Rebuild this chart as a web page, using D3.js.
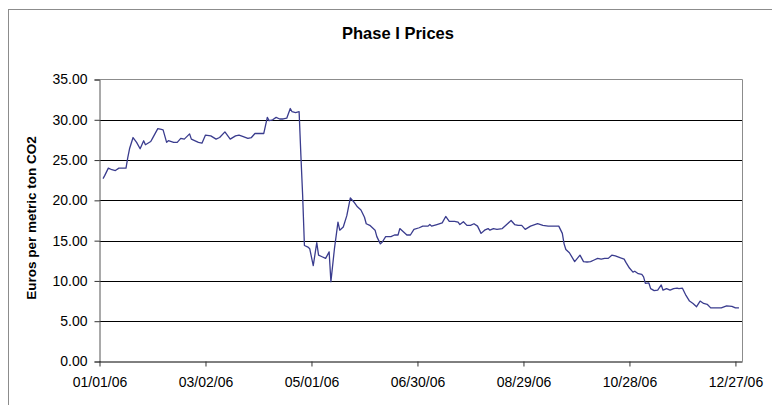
<!DOCTYPE html>
<html><head><meta charset="utf-8">
<script src="https://cdn.jsdelivr.net/npm/d3@7"></script>
<style>
body{margin:0;background:#fff}
svg{display:block}
text{font-family:"Liberation Sans",Arial,sans-serif;fill:#000}
</style>
</head><body>
<svg id="c" width="772" height="405"></svg>
<script>
const title = "Phase I Prices";
const yTitle = "Euros per metric ton CO2";
const yTicks = [0, 5, 10, 15, 20, 25, 30, 35];
const xTickDates = ["2006-01-01","2006-03-02","2006-05-01","2006-06-30","2006-08-29","2006-10-28","2006-12-27"];
const dates = [
"2006-01-03","2006-01-04","2006-01-06","2006-01-08","2006-01-10","2006-01-12","2006-01-13","2006-01-16","2006-01-17","2006-01-18",
"2006-01-20","2006-01-22","2006-01-24","2006-01-26","2006-01-27","2006-01-30","2006-01-31","2006-02-03","2006-02-05","2006-02-06",
"2006-02-08","2006-02-09","2006-02-12","2006-02-14","2006-02-16","2006-02-18","2006-02-21","2006-02-22","2006-02-26","2006-02-28",
"2006-03-02","2006-03-05","2006-03-08","2006-03-10","2006-03-13","2006-03-16","2006-03-19","2006-03-21","2006-03-23","2006-03-26",
"2006-03-28","2006-03-30","2006-04-03","2006-04-04","2006-04-06","2006-04-07","2006-04-09","2006-04-11","2006-04-13","2006-04-15",
"2006-04-17","2006-04-19","2006-04-20","2006-04-22","2006-04-24","2006-04-25","2006-04-26","2006-04-27","2006-04-29","2006-04-30",
"2006-05-02","2006-05-04","2006-05-05","2006-05-07","2006-05-09","2006-05-11","2006-05-12","2006-05-14","2006-05-16","2006-05-17",
"2006-05-19","2006-05-21","2006-05-23","2006-05-25","2006-05-27","2006-05-29","2006-05-31","2006-06-01","2006-06-03","2006-06-06",
"2006-06-07","2006-06-09","2006-06-10","2006-06-12","2006-06-15","2006-06-17","2006-06-19","2006-06-20","2006-06-22","2006-06-24",
"2006-06-26","2006-06-28","2006-07-01","2006-07-03","2006-07-06","2006-07-07","2006-07-08","2006-07-11","2006-07-14","2006-07-16",
"2006-07-18","2006-07-21","2006-07-23","2006-07-24","2006-07-26","2006-07-28","2006-07-30","2006-08-01","2006-08-03","2006-08-05",
"2006-08-07","2006-08-09","2006-08-10","2006-08-12","2006-08-14","2006-08-17","2006-08-20","2006-08-22","2006-08-24","2006-08-26",
"2006-08-28","2006-08-30","2006-09-02","2006-09-06","2006-09-09","2006-09-12","2006-09-15","2006-09-18","2006-09-20","2006-09-21",
"2006-09-22","2006-09-24","2006-09-27","2006-09-30","2006-10-02","2006-10-04","2006-10-06","2006-10-08","2006-10-10","2006-10-12",
"2006-10-14","2006-10-16","2006-10-18","2006-10-20","2006-10-23","2006-10-25","2006-10-26","2006-10-28","2006-10-30","2006-10-31",
"2006-11-02","2006-11-04","2006-11-05","2006-11-06","2006-11-08","2006-11-09","2006-11-11","2006-11-13","2006-11-15","2006-11-16",
"2006-11-18","2006-11-20","2006-11-22","2006-11-24","2006-11-25","2006-11-27","2006-11-29","2006-12-01","2006-12-03","2006-12-05",
"2006-12-07","2006-12-09","2006-12-11","2006-12-13","2006-12-16","2006-12-19","2006-12-22","2006-12-25","2006-12-27","2006-12-29"
];
const prices = [
22.7,23.1,24.0,23.8,23.7,24.0,24.0,24.0,25.3,26.4,
27.8,27.2,26.4,27.4,26.9,27.3,27.7,28.9,28.8,28.75,
27.2,27.4,27.2,27.2,27.7,27.6,28.25,27.6,27.2,27.1,
28.1,28.0,27.6,27.8,28.5,27.6,28.0,28.1,27.95,27.7,
27.8,28.3,28.3,28.3,30.3,29.9,30.0,30.3,30.1,30.1,
30.2,31.4,31.0,30.9,31.0,25.6,20.6,14.4,14.2,14.0,
11.9,14.75,13.2,13.0,12.8,13.6,9.9,14.0,17.3,16.3,
16.7,18.1,20.3,19.8,19.2,18.8,17.9,17.1,16.9,16.3,
15.5,14.6,14.8,15.5,15.5,15.7,15.7,16.5,16.1,15.7,
15.7,16.4,16.6,16.8,16.8,17.0,16.8,17.0,17.2,18.0,
17.4,17.4,17.3,17.0,17.35,16.9,16.9,17.1,16.8,15.9,
16.3,16.5,16.3,16.5,16.4,16.5,17.1,17.5,17.0,16.9,
16.9,16.4,16.8,17.1,16.9,16.8,16.8,16.8,15.9,14.6,
13.9,13.5,12.4,13.2,12.4,12.35,12.4,12.6,12.8,12.7,
12.8,12.8,13.2,13.1,12.85,12.7,12.3,11.6,11.1,11.2,
10.9,10.8,10.5,9.7,9.75,9.05,8.8,8.85,9.5,8.85,
9.05,8.85,9.05,9.1,9.05,9.1,8.2,7.5,7.2,6.8,
7.5,7.2,7.1,6.65,6.65,6.65,6.9,6.85,6.65,6.65
];

const parse = d3.utcParse("%Y-%m-%d");
const fmt = d3.utcFormat("%m/%d/%y");
const svg = d3.select("#c");
const L = 99.5, R = 742.5, T = 79.5, B = 361.5;

const x = d3.scaleUtc().domain([parse("2006-01-01"), parse("2006-12-31")]).range([L, R]);
const y = d3.scaleLinear().domain([0, 35]).range([B, T]);

// outer chart border
svg.append("rect").attr("x", 8.5).attr("y", 9.5).attr("width", 800).attr("height", 500)
  .attr("fill", "none").attr("stroke", "#8c8c8c").attr("stroke-width", 1);

// title
svg.append("text").attr("x", 398).attr("y", 39).attr("text-anchor", "middle")
  .attr("font-size", 16.5).attr("font-weight", "bold").text(title);

// gridlines
svg.append("g").selectAll("line").data(yTicks.filter(v => v > 0 && v < 35)).join("line")
  .attr("x1", L).attr("x2", R).attr("y1", d => Math.round(y(d)) + 0.5).attr("y2", d => Math.round(y(d)) + 0.5)
  .attr("stroke", "#000").attr("stroke-width", 1);

// plot frame top & right
svg.append("line").attr("x1", L).attr("x2", R).attr("y1", T).attr("y2", T).attr("stroke", "#8c8c8c");
svg.append("line").attr("x1", R).attr("x2", R).attr("y1", T).attr("y2", B).attr("stroke", "#8c8c8c");

// y axis
const yAxis = d3.axisLeft(y).tickValues(yTicks).tickSize(5).tickPadding(7).tickFormat(d3.format(".2f"));
const gy = svg.append("g").attr("transform", `translate(${L},0)`).call(yAxis);
gy.select(".domain").attr("stroke", "#555");
gy.selectAll(".tick line").attr("stroke", "#333");
gy.selectAll(".tick text").attr("font-size", 14).attr("font-family", "Liberation Sans, Arial, sans-serif").attr("fill", "#111");

// x axis
const xAxis = d3.axisBottom(x).tickValues(xTickDates.map(parse)).tickSize(5).tickPadding(11).tickFormat(fmt);
const gx = svg.append("g").attr("transform", `translate(0,${B})`).call(xAxis);
gx.select(".domain").attr("stroke", "#000").attr("d", `M${L},0.5H${R}`);
gx.selectAll(".tick line").attr("stroke", "#333");
gx.selectAll(".tick text").attr("font-size", 14).attr("font-family", "Liberation Sans, Arial, sans-serif").attr("fill", "#111");

// y title
svg.append("text").attr("transform", "translate(36,218) rotate(-90)").attr("text-anchor", "middle")
  .attr("font-size", 13.5).attr("font-weight", "bold").text(yTitle);

// line
const data = dates.map((d, i) => ({date: parse(d), v: prices[i]}));
svg.append("path").datum(data)
  .attr("fill", "none").attr("stroke", "#3a3c8e").attr("stroke-width", 1.3).attr("stroke-linejoin", "round")
  .attr("d", d3.line().x(d => x(d.date)).y(d => y(d.v)));
</script>
</body></html>
